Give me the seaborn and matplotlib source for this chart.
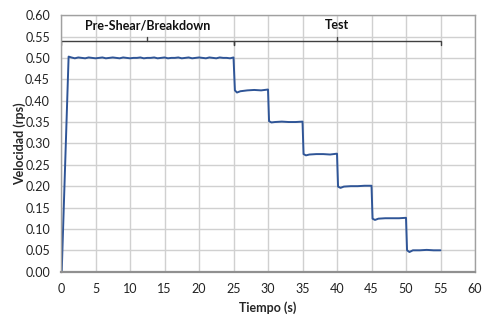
import numpy as np
import pandas as pd
import matplotlib
matplotlib.use("Agg")
import matplotlib.pyplot as plt
import seaborn as sns

# Ramp and pre-shear plateau (t in s, velocity in rps)
t_pre = [0.1, 1.1, 1.5, 2.0, 2.5, 3.0, 3.5, 4.0, 4.5, 5.0, 5.5, 6.0, 6.5, 7.0,
         7.5, 8.0, 8.5, 9.0, 9.5, 10.0, 10.5, 11.0, 11.5, 12.0, 12.5, 13.0,
         13.5, 14.0, 14.5, 15.0, 15.5, 16.0, 16.5, 17.0, 17.5, 18.0, 18.5,
         19.0, 19.5, 20.0, 20.5, 21.0, 21.5, 22.0, 22.5, 23.0, 23.5, 24.0,
         24.5, 25.0]
v_pre = [0.000, 0.503, 0.501, 0.499, 0.501, 0.500, 0.499, 0.501, 0.500, 0.499,
         0.500, 0.501, 0.499, 0.500, 0.501, 0.500, 0.499, 0.501, 0.500, 0.499,
         0.500, 0.500, 0.501, 0.499, 0.500, 0.500, 0.501, 0.499, 0.500, 0.501,
         0.499, 0.500, 0.500, 0.501, 0.499, 0.500, 0.501, 0.499, 0.500, 0.501,
         0.500, 0.499, 0.501, 0.500, 0.499, 0.501, 0.500, 0.500, 0.499, 0.501]

# Test steps
t_test = [25.2, 25.5, 26.0, 27.0, 28.0, 29.0, 30.0,
          30.15, 30.5, 31.0, 32.0, 33.0, 34.0, 35.0,
          35.15, 35.5, 36.0, 37.0, 38.0, 39.0, 40.0,
          40.15, 40.5, 41.0, 42.0, 43.0, 44.0, 45.0,
          45.15, 45.5, 46.0, 47.0, 48.0, 49.0, 50.0,
          50.15, 50.5, 51.0, 52.0, 53.0, 54.0, 55.0]
v_test = [0.424, 0.419, 0.422, 0.424, 0.425, 0.424, 0.426,
          0.352, 0.349, 0.350, 0.351, 0.350, 0.350, 0.351,
          0.275, 0.272, 0.274, 0.275, 0.275, 0.274, 0.276,
          0.199, 0.196, 0.199, 0.200, 0.200, 0.201, 0.201,
          0.124, 0.121, 0.124, 0.125, 0.125, 0.125, 0.126,
          0.050, 0.046, 0.050, 0.050, 0.051, 0.050, 0.050]

df = pd.DataFrame({"t": t_pre + t_test, "v": v_pre + v_test})

sns.set_style("white")
plt.rcParams["font.family"] = ["Lato", "DejaVu Sans"]

fig = plt.figure(figsize=(4.82, 3.15), dpi=100)
ax = fig.add_axes([0.1266, 0.1375, 0.8589, 0.8145])

sns.lineplot(data=df, x="t", y="v", ax=ax, color="#2F5597", linewidth=1.4,
             sort=False, estimator=None)

ax.set_xlim(0, 60)
ax.set_ylim(0, 0.6)
ax.set_xticks(np.arange(0, 61, 5))
ax.set_yticks(np.arange(0, 0.601, 0.05))
ax.set_yticklabels([f"{y:.2f}" for y in np.arange(0, 0.601, 0.05)])
ax.grid(True, color="#D0D0D0", linewidth=1.0)
ax.set_axisbelow(True)
ax.tick_params(length=0, labelsize=9, colors="#222222")
ax.tick_params(axis="y", pad=8)
ax.tick_params(axis="x", pad=8)

for side in ["top", "right", "left"]:
    ax.spines[side].set_color("#A0A0A0")
    ax.spines[side].set_linewidth(1.0)
ax.spines["bottom"].set_color("#909090")
ax.spines["bottom"].set_linewidth(1.6)

ax.set_xlabel("Tiempo (s)", fontsize=9, fontweight="bold", labelpad=5)
ax.set_ylabel("Velocidad (rps)", fontsize=9, fontweight="bold", labelpad=-1)

# brackets
bc = "#404040"
for x0, x1, label in [(0, 25, "Pre-Shear/Breakdown"), (25, 55, "Test")]:
    xm = (x0 + x1) / 2
    ax.plot([x0, x0, x1, x1], [0.530, 0.540, 0.540, 0.530], color=bc, lw=1.0,
            solid_joinstyle="miter")
    ax.plot([xm, xm], [0.540, 0.550], color=bc, lw=1.0)
    ax.text(xm, 0.576, label, ha="center", va="center", fontsize=9,
            fontweight="bold", color="#111111")

fig.savefig("out.png", dpi=100)
